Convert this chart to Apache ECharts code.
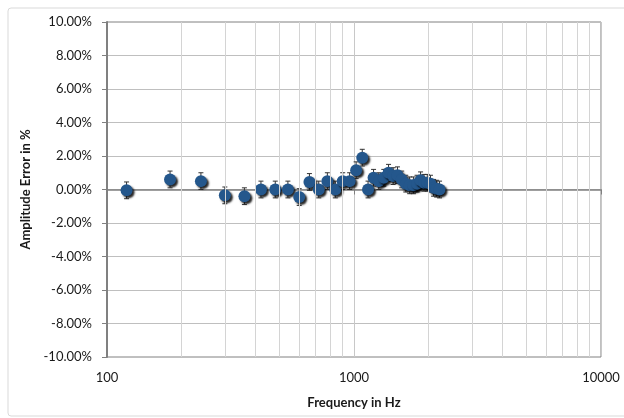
<!DOCTYPE html>
<html>
<head>
<meta charset="utf-8">
<script src="https://cdn.jsdelivr.net/npm/echarts@6/dist/echarts.min.js"></script>
<style>
  html, body { margin: 0; padding: 0; background: #fff; }
  #chart { width: 624px; height: 418px; }
</style>
</head>
<body>
<div id="chart"></div>
<script>
// frequency points (Hz)
var freqs = [120, 180, 240, 300, 360, 420, 480, 540, 600, 660, 720, 780, 840, 900, 960,
  1020, 1080, 1140, 1200, 1260, 1320, 1380, 1440, 1500, 1560, 1620, 1680, 1740, 1800,
  1860, 1920, 1980, 2040, 2100, 2160, 2220];
// amplitude error in %
var ampError = [-0.05, 0.6, 0.5, -0.35, -0.4, 0, 0, 0, -0.45, 0.45, 0, 0.5, 0, 0.5, 0.5,
  1.15, 1.9, 0, 0.7, 0.5, 0.7, 1.0, 0.8, 0.85, 0.6, 0.35, 0.25, 0.25, 0.35,
  0.55, 0.4, 0.4, 0.35, 0.1, 0.05, 0.0];
// error bar half-width in %
var errBar = [0.5, 0.5, 0.5, 0.5, 0.5, 0.5, 0.5, 0.5, 0.5, 0.5, 0.5, 0.5, 0.5, 0.5, 0.5,
  0.5, 0.5, 0.5, 0.5, 0.5, 0.5, 0.5, 0.5, 0.5, 0.5, 0.5, 0.5, 0.5, 0.5,
  0.5, 0.5, 0.5, 0.5, 0.5, 0.5, 0.5];
// minor log gridlines
var minorGrid = [200, 300, 400, 500, 600, 700, 800, 900, 2000, 3000, 4000, 5000, 6000, 7000, 8000, 9000];

var font = "Lato, 'Open Sans', sans-serif";

var points = freqs.map(function (f, i) { return [f, ampError[i]]; });
var bars = freqs.map(function (f, i) { return [f, ampError[i] - errBar[i], ampError[i] + errBar[i]]; });

var chart = echarts.init(document.getElementById('chart'));
var option = {
  animation: false,
  graphic: [
    {
      type: 'rect',
      shape: { x: 8, y: 8, width: 640, height: 408, r: 3 },
      style: { fill: 'none', stroke: '#d9d9d9', lineWidth: 1 },
      z: -1
    }
  ],
  grid: {
    left: 107,
    right: 23,
    top: 22,
    bottom: 61,
    show: true,
    borderColor: '#808080',
    borderWidth: 1
  },
  xAxis: {
    type: 'log',
    logBase: 10,
    min: 100,
    max: 10000,
    name: 'Frequency in Hz',
    nameLocation: 'middle',
    nameGap: 39,
    nameTextStyle: { fontFamily: font, fontSize: 13, fontWeight: 'bold', color: '#1a1a1a' },
    axisLine: { lineStyle: { color: '#808080', width: 1.5 } },
    axisTick: { show: true, length: 5, lineStyle: { color: '#808080' } },
    axisLabel: {
      fontFamily: font, fontSize: 13, color: '#1a1a1a', margin: 14,
      formatter: function (v) { return String(Math.round(v)); }
    },
    splitLine: { show: true, lineStyle: { color: '#c8c8c8', width: 1 } }
  },
  yAxis: {
    type: 'value',
    min: -10,
    max: 10,
    interval: 2,
    name: 'Amplitude Error in %',
    nameLocation: 'middle',
    nameGap: 69,
    nameTextStyle: { fontFamily: font, fontSize: 13, fontWeight: 'bold', color: '#1a1a1a' },
    axisLine: { show: true, lineStyle: { color: '#808080', width: 2 } },
    axisTick: { show: true, length: 5, lineStyle: { color: '#808080' } },
    axisLabel: {
      fontFamily: font, fontSize: 13, color: '#1a1a1a', margin: 15,
      formatter: function (v) { return v.toFixed(2) + '%'; }
    },
    splitLine: { show: true, lineStyle: { color: '#bfbfbf', width: 1 } }
  },
  series: [
    {
      type: 'line',
      data: [],
      silent: true,
      markLine: {
        silent: true,
        symbol: 'none',
        label: { show: false },
        lineStyle: { color: '#d4d4d4', type: 'solid', width: 1 },
        data: minorGrid.map(function (v) { return { xAxis: v }; })
      },
      z: 1
    },
    {
      type: 'custom',
      data: bars,
      encode: { x: 0, y: [1, 2] },
      renderItem: function (params, api) {
        var x = api.value(0);
        var lo = api.coord([x, api.value(1)]);
        var hi = api.coord([x, api.value(2)]);
        var st = { stroke: '#333', lineWidth: 1 };
        return {
          type: 'group',
          children: [
            { type: 'line', shape: { x1: lo[0], y1: lo[1], x2: hi[0], y2: hi[1] }, style: st },
            { type: 'line', shape: { x1: lo[0] - 2.5, y1: lo[1], x2: lo[0] + 2.5, y2: lo[1] }, style: st },
            { type: 'line', shape: { x1: hi[0] - 2.5, y1: hi[1], x2: hi[0] + 2.5, y2: hi[1] }, style: st }
          ]
        };
      },
      z: 2
    },
    {
      type: 'scatter',
      data: points,
      symbol: 'circle',
      symbolSize: 12,
      itemStyle: {
        color: '#24578c',
        opacity: 1,
        shadowColor: 'rgba(0,0,0,0.85)',
        shadowBlur: 2,
        shadowOffsetX: 2,
        shadowOffsetY: 2
      },
      z: 3
    }
  ]
};
chart.setOption(option);
</script>
</body>
</html>
